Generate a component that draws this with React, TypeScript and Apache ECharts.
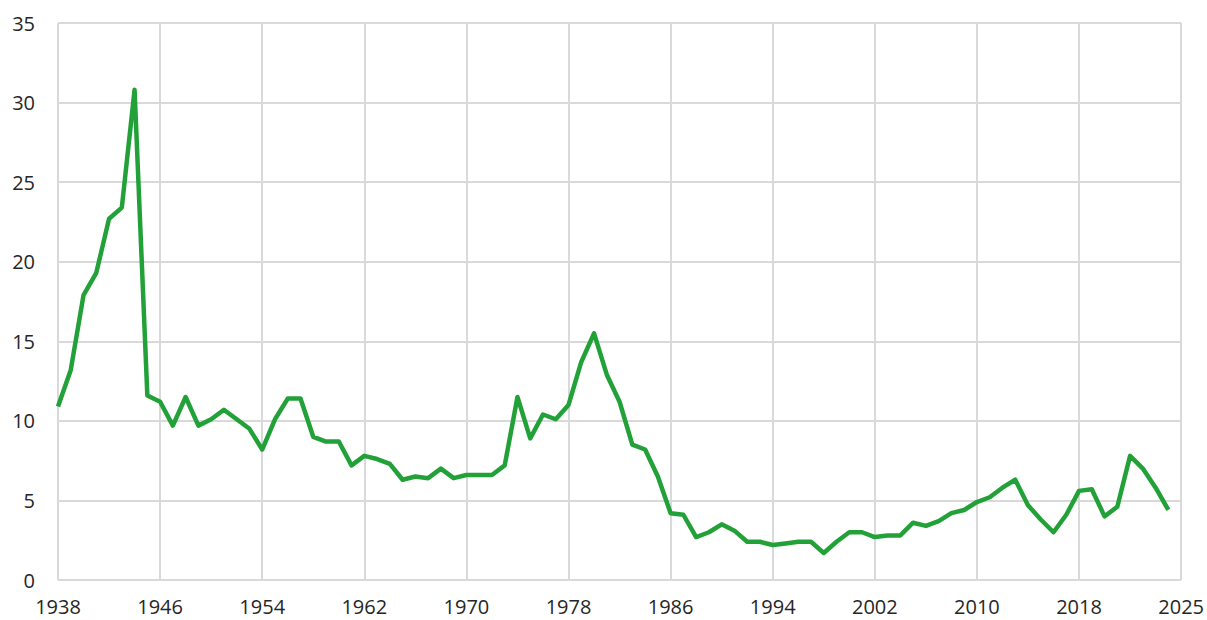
import React, { useEffect, useRef } from "react";
import * as echarts from "echarts";

const years: number[] = [];
for (let y = 1938; y <= 2025; y++) years.push(y);

const values: number[] = [
  10.9, 13.2, 17.9, 19.3, 22.7, 23.4, 30.8, 11.6, 11.2, 9.7,
  11.5, 9.7, 10.1, 10.7, 10.1, 9.5, 8.2, 10.1, 11.4, 11.4,
  9.0, 8.7, 8.7, 7.2, 7.8, 7.6, 7.3, 6.3, 6.5, 6.4,
  7.0, 6.4, 6.6, 6.6, 6.6, 7.2, 11.5, 8.9, 10.4, 10.1,
  11.0, 13.7, 15.5, 12.9, 11.2, 8.5, 8.2, 6.5, 4.2, 4.1,
  2.7, 3.0, 3.5, 3.1, 2.4, 2.4, 2.2, 2.3, 2.4, 2.4,
  1.7, 2.4, 3.0, 3.0, 2.7, 2.8, 2.8, 3.6, 3.4, 3.7,
  4.2, 4.4, 4.9, 5.2, 5.8, 6.3, 4.7, 3.8, 3.0, 4.1,
  5.6, 5.7, 4.0, 4.6, 7.8, 7.0, 5.8, 4.4,
];

const xTickLabels: string[] = [
  "1938", "1946", "1954", "1962", "1970", "1978",
  "1986", "1994", "2002", "2010", "2018", "2025",
];

const yTicks: number[] = [0, 5, 10, 15, 20, 25, 30, 35];

export default function App() {
  const ref = useRef<HTMLDivElement>(null);
  useEffect(() => {
    if (!ref.current) return;
    const chart = echarts.init(ref.current, null, { renderer: "svg" });
    const gridColor = "#d9d9d9";
    const textColor = "#262626";
    const font = "'Open Sans', 'Noto Sans', sans-serif";
    chart.setOption({
      animation: false,
      backgroundColor: "#ffffff",
      grid: { left: 58, right: 25, top: 23, bottom: 40, containLabel: false },
      xAxis: {
        type: "value",
        min: 1938,
        max: 2026,
        interval: 8,
        axisLine: { show: false },
        axisTick: { show: false },
        splitLine: { show: true, lineStyle: { color: gridColor, width: 2 } },
        axisLabel: {
          color: textColor,
          fontSize: 20,
          fontFamily: font,
          margin: 16,
          showMaxLabel: true,
          formatter: (v: number) => xTickLabels[Math.round((v - 1938) / 8)] ?? "",
        },
      },
      yAxis: {
        type: "value",
        min: yTicks[0],
        max: yTicks[yTicks.length - 1],
        interval: 5,
        axisLine: { show: false },
        axisTick: { show: false },
        splitLine: { show: true, lineStyle: { color: gridColor, width: 2 } },
        axisLabel: {
          color: textColor,
          fontSize: 20,
          fontFamily: font,
          margin: 23,
        },
      },
      series: [
        {
          type: "line",
          data: years.map((y, i) => [y, values[i]]),
          showSymbol: false,
          symbol: "none",
          lineStyle: { color: "#22a139", width: 4.5, join: "round" },
          itemStyle: { color: "#22a139" },
        },
      ],
    });
    return () => chart.dispose();
  }, []);
  return <div ref={ref} style={{ width: 1207, height: 620, position: "absolute", left: 0, top: 0 }} />;
}
